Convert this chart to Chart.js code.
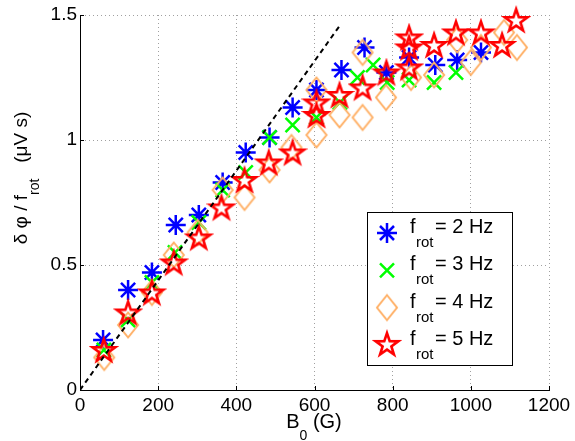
<!DOCTYPE html>
<html>
<head>
<meta charset="utf-8">
<script src="https://cdn.jsdelivr.net/npm/chart.js@4.4.0/dist/chart.umd.min.js"></script>
<style>
    html, body { margin: 0; padding: 0; background: #fff; }
    canvas { display: block; }
</style>
</head>
<body>
<canvas id="chart" width="575" height="441"></canvas>
<script>
// данные
const xTicks = [0, 200, 400, 600, 800, 1000, 1200];
const yTicks = [0, 0.5, 1, 1.5];
const freqs = [2, 3, 4, 5];

const b2 = [59, 123, 184, 245, 304, 365, 424, 485, 544, 605, 669, 728, 784, 842, 909, 965, 1026];
const phi2 = [0.20, 0.40, 0.47, 0.66, 0.70, 0.83, 0.95, 1.01, 1.13, 1.20, 1.28, 1.37, 1.27, 1.33, 1.30, 1.32, 1.35];

const b3 = [61, 123, 184, 243, 304, 365, 424, 485, 544, 605, 665, 710, 750, 786, 842, 906, 962];
const phi3 = [0.16, 0.28, 0.43, 0.55, 0.67, 0.80, 0.87, 1.01, 1.06, 1.09, 1.15, 1.25, 1.30, 1.23, 1.24, 1.23, 1.27];

const b4 = [62, 123, 184, 240, 301, 365, 421, 485, 541, 605, 605, 664, 723, 723, 783, 847, 906, 965, 1000, 1026, 1085, 1118];
const phi4 = [0.13, 0.26, 0.39, 0.54, 0.63, 0.80, 0.77, 0.88, 0.97, 1.02, 1.20, 1.10, 1.09, 1.35, 1.17, 1.25, 1.26, 1.40, 1.31, 1.37, 1.43, 1.37];

const b5 = [61, 123, 184, 240, 304, 362, 421, 483, 544, 605, 605, 664, 723, 784, 842, 842, 842, 906, 962, 1026, 1080, 1116];
const phi5 = [0.16, 0.31, 0.39, 0.51, 0.61, 0.73, 0.84, 0.91, 0.95, 1.15, 1.10, 1.18, 1.21, 1.27, 1.41, 1.37, 1.29, 1.38, 1.43, 1.43, 1.38, 1.48];

const fitB = [0, 664];
const fitPhi = [0, 1.456];

const FONT = '"Liberation Sans", Arial, sans-serif';
const BLUE = '#0000ff';
const GREEN = '#00ff00';
const ORANGE = '#ffb066';
const RED = '#ff0000';

function toPoints(xs, ys) {
    return xs.map((x, i) => ({ x: x, y: ys[i] }));
}

// пятиконечная звезда (как pentagram в matlab)
function makeStar() {
    let c = document.createElement('canvas');
    c.width = 30; c.height = 30;
    let g = c.getContext('2d');
    let R = 11.8, r = 4.6;
    g.beginPath();
    for (let i = 0; i < 10; i++) {
        let rad = (i % 2 === 0) ? R : r;
        let a = -Math.PI / 2 + i * Math.PI / 5;
        let px = 15 + rad * Math.cos(a);
        let py = 16 + rad * Math.sin(a);
        if (i === 0) g.moveTo(px, py); else g.lineTo(px, py);
    }
    g.closePath();
    g.lineWidth = 2.6;
    g.lineJoin = 'miter';
    g.strokeStyle = RED;
    g.stroke();
    return c;
}

function makeDiamond() {
    let c = document.createElement('canvas');
    c.width = 26; c.height = 30;
    let g = c.getContext('2d');
    g.beginPath();
    g.moveTo(13, 2.5);
    g.lineTo(23, 15);
    g.lineTo(13, 27.5);
    g.lineTo(3, 15);
    g.closePath();
    g.lineWidth = 2;
    g.strokeStyle = ORANGE;
    g.stroke();
    return c;
}

const starImg = makeStar();
const diamondImg = makeDiamond();

function drawAsterisk(ctx, x, y) {
    ctx.save();
    ctx.strokeStyle = BLUE;
    ctx.lineWidth = 2.5;
    ctx.beginPath();
    ctx.moveTo(x - 10, y); ctx.lineTo(x + 10, y);
    ctx.moveTo(x, y - 10); ctx.lineTo(x, y + 10);
    ctx.moveTo(x - 7, y - 7); ctx.lineTo(x + 7, y + 7);
    ctx.moveTo(x - 7, y + 7); ctx.lineTo(x + 7, y - 7);
    ctx.stroke();
    ctx.restore();
}

function drawCross(ctx, x, y) {
    ctx.save();
    ctx.strokeStyle = GREEN;
    ctx.lineWidth = 2.5;
    ctx.beginPath();
    ctx.moveTo(x - 7, y - 7); ctx.lineTo(x + 7, y + 7);
    ctx.moveTo(x - 7, y + 7); ctx.lineTo(x + 7, y - 7);
    ctx.stroke();
    ctx.restore();
}

// подписи осей, легенда и внутренние засечки
const decorPlugin = {
    id: 'decor',
    afterDraw(chart) {
        const ctx = chart.ctx;
        const xs = chart.scales.x;
        const ys = chart.scales.y;
        const area = chart.chartArea;

        // засечки внутрь
        ctx.save();
        ctx.strokeStyle = '#000';
        ctx.lineWidth = 1;
        ctx.beginPath();
        xTicks.forEach(t => {
            let px = Math.round(xs.getPixelForValue(t)) + 0.5;
            ctx.moveTo(px, area.bottom);
            ctx.lineTo(px, area.bottom - 4);
        });
        yTicks.forEach(t => {
            let py = Math.round(ys.getPixelForValue(t)) + 0.5;
            ctx.moveTo(area.left, py);
            ctx.lineTo(area.left + 4, py);
        });
        ctx.stroke();
        ctx.restore();

        ctx.save();
        ctx.fillStyle = '#000';
        ctx.textBaseline = 'alphabetic';
        ctx.textAlign = 'left';

        // подпись оси X: B0 (G)
        let big = '20px ' + FONT;
        let small = '14px ' + FONT;
        ctx.font = big;
        let wB = ctx.measureText('B').width;
        let wRest = ctx.measureText(' (G)').width;
        ctx.font = small;
        let w0 = ctx.measureText('0').width;
        let x0 = 314 - (wB + w0 + wRest) / 2;
        ctx.font = big;
        ctx.fillText('B', x0, 428);
        ctx.font = small;
        ctx.fillText('0', x0 + wB, 440);
        ctx.font = big;
        ctx.fillText(' (G)', x0 + wB + w0, 428);

        // подпись оси Y
        ctx.save();
        ctx.translate(27, 178);
        ctx.rotate(-Math.PI / 2);
        let p1 = 'δ φ / f';
        let p2 = 'rot';
        let p3 = '   (μV s)';
        ctx.font = '19px ' + FONT;
        let w1 = ctx.measureText(p1).width;
        let w3 = ctx.measureText(p3).width;
        ctx.font = small;
        let w2 = ctx.measureText(p2).width;
        let start = -(w1 + w2 + w3) / 2;
        ctx.font = '19px ' + FONT;
        ctx.fillText(p1, start, 0);
        ctx.font = small;
        ctx.fillText(p2, start + w1, 12);
        ctx.font = '19px ' + FONT;
        ctx.fillText(p3, start + w1 + w2, 0);
        ctx.restore();

        // легенда
        ctx.fillStyle = '#fff';
        ctx.fillRect(367, 212, 145, 153);
        ctx.strokeStyle = '#000';
        ctx.lineWidth = 1;
        ctx.strokeRect(367.5, 212.5, 145, 153);
        ctx.fillStyle = '#000';
        freqs.forEach((f, i) => {
            let cy = 233 + i * 37.3;
            if (i === 0) drawAsterisk(ctx, 387, cy);
            if (i === 1) drawCross(ctx, 387, cy);
            if (i === 2) ctx.drawImage(diamondImg, 387 - 13, cy - 15);
            if (i === 3) ctx.drawImage(starImg, 387 - 15, cy - 16);
            ctx.font = '20px ' + FONT;
            ctx.fillText('f', 410, cy);
            ctx.fillText('= ' + f + ' Hz', 435, cy);
            ctx.font = '15px ' + FONT;
            ctx.fillText('rot', 416, cy + 14);
        });
        ctx.restore();
    }
};

const chartConfig = {
    type: 'scatter',
    data: {
        datasets: [
            {
                label: 'fit',
                type: 'line',
                data: toPoints(fitB, fitPhi),
                borderColor: '#000',
                borderWidth: 2,
                borderDash: [5, 4],
                pointRadius: 0,
                fill: false,
                order: 0
            },
            {
                label: 'f5',
                data: toPoints(b5, phi5),
                pointStyle: starImg,
                clip: false,
                order: 1
            },
            {
                label: 'f4',
                data: toPoints(b4, phi4),
                pointStyle: diamondImg,
                clip: false,
                order: 2
            },
            {
                label: 'f3',
                data: toPoints(b3, phi3),
                pointStyle: 'crossRot',
                pointRadius: 10,
                borderColor: GREEN,
                borderWidth: 2.5,
                clip: false,
                order: 3
            },
            {
                label: 'f2',
                data: toPoints(b2, phi2),
                pointStyle: 'star',
                pointRadius: 10,
                borderColor: BLUE,
                borderWidth: 2.5,
                clip: false,
                order: 4
            }
        ]
    },
    options: {
        responsive: false,
        animation: false,
        layout: { padding: { top: 15, right: 26, left: 0, bottom: 0 } },
        plugins: {
            legend: { display: false },
            tooltip: { enabled: false }
        },
        scales: {
            x: {
                type: 'linear',
                min: 0,
                max: 1200,
                afterFit: (s) => { s.height = 51; },
                ticks: {
                    stepSize: 200,
                    color: '#000',
                    font: { family: FONT, size: 19 },
                    padding: 4,
                    maxRotation: 0,
                    callback: (v) => String(v)
                },
                grid: { color: '#a0a0a0', drawTicks: false, tickLength: 0 },
                border: { display: true, color: '#000', width: 1, dash: [1, 3] }
            },
            y: {
                type: 'linear',
                min: 0,
                max: 1.5,
                afterFit: (s) => { s.width = 80; },
                ticks: {
                    stepSize: 0.5,
                    color: '#000',
                    font: { family: FONT, size: 19 },
                    padding: 3,
                    callback: (v) => String(v)
                },
                grid: { color: '#a0a0a0', drawTicks: false, tickLength: 0 },
                border: { display: true, color: '#000', width: 1, dash: [1, 3] }
            }
        }
    },
    plugins: [decorPlugin]
};

const myChart = new Chart(document.getElementById('chart'), chartConfig);
</script>
</body>
</html>
